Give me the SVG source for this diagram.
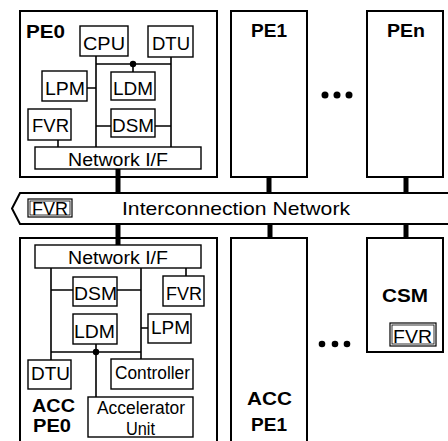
<svg xmlns="http://www.w3.org/2000/svg" width="448" height="441" viewBox="0 0 448 441">
<style>
.ob{fill:none;stroke:#000;stroke-width:2}
.ib{fill:#fff;stroke:#000;stroke-width:1.4}
.ln{fill:none;stroke:#000;stroke-width:1.6}
.th{stroke:#000;stroke-width:5}
.t{font-family:"Liberation Sans",Arial,sans-serif;font-size:18px;fill:#000}
.b{font-weight:bold;font-size:19px}
</style>
<rect width="448" height="441" fill="#fff"/>
<g id="connectors">
<line class="th" x1="118" y1="169" x2="118" y2="194"/>
<line class="th" x1="269" y1="176" x2="269" y2="194"/>
<line class="th" x1="406" y1="176" x2="406" y2="194"/>
<line class="th" x1="118" y1="223" x2="118" y2="246"/>
<line class="th" x1="270" y1="223" x2="270" y2="239"/>
<line class="th" x1="406" y1="223" x2="406" y2="239"/>
<path class="ln" d="M96 56V147M171 57V147M96 64H171M133 64V72M87 88H96M96 126H111M155 126H171M58 140V147"/>
<circle cx="133" cy="64" r="3.2"/>
<path class="ln" d="M51 268V360M141 268V359M51 352H141M96 344V397M51 290H73M117 290H141M141 328H148M186 268V276"/>
<circle cx="96" cy="352" r="3.2"/>
</g>
<g id="pe0">
<rect class="ob" x="20" y="11" width="197" height="166"/>
<text class="t b" x="26" y="38" textLength="39" lengthAdjust="spacingAndGlyphs">PE0</text>
</g>
<g id="pe0-cpu"><rect class="ib" x="80" y="26" width="48" height="30"/><text class="t" x="83" y="50" textLength="42" lengthAdjust="spacingAndGlyphs">CPU</text></g>
<g id="pe0-dtu"><rect class="ib" x="148" y="26" width="45" height="31"/><text class="t" x="152" y="50" textLength="38" lengthAdjust="spacingAndGlyphs">DTU</text></g>
<g id="pe0-lpm"><rect class="ib" x="42" y="71" width="45" height="30"/><text class="t" x="45" y="95" textLength="40" lengthAdjust="spacingAndGlyphs">LPM</text></g>
<g id="pe0-ldm"><rect class="ib" x="111" y="72" width="44" height="28"/><text class="t" x="113" y="95" textLength="40" lengthAdjust="spacingAndGlyphs">LDM</text></g>
<g id="pe0-fvr"><rect class="ib" x="28" y="109" width="43" height="31"/><text class="t" x="32" y="132" textLength="37" lengthAdjust="spacingAndGlyphs">FVR</text></g>
<g id="pe0-dsm"><rect class="ib" x="111" y="109" width="44" height="28"/><text class="t" x="112" y="132" textLength="42" lengthAdjust="spacingAndGlyphs">DSM</text></g>
<g id="pe0-nif"><rect class="ib" x="35" y="147" width="166" height="22"/><text class="t" x="68" y="166" textLength="100" lengthAdjust="spacingAndGlyphs">Network I/F</text></g>
<g id="pe1">
<rect class="ob" x="231" y="11" width="76" height="166"/>
<text class="t b" x="251" y="37" textLength="36" lengthAdjust="spacingAndGlyphs">PE1</text>
</g>
<g id="dots-top"><circle cx="325" cy="95" r="3.5"/><circle cx="337" cy="95" r="3.5"/><circle cx="349" cy="95" r="3.5"/></g>
<g id="pen">
<rect class="ob" x="367" y="11" width="76" height="166"/>
<text class="t b" x="387" y="37" textLength="38" lengthAdjust="spacingAndGlyphs">PEn</text>
</g>
<g id="network">
<polygon points="450,193 20,193 12,208.5 20,224 450,224" fill="#fff" stroke="#000" stroke-width="2"/>
<rect x="28" y="199" width="44" height="18" fill="#fff" stroke="#000" stroke-width="1.2"/>
<rect x="30" y="201" width="40" height="14" fill="none" stroke="#000" stroke-width="0.8"/>
<text class="t" x="32" y="215" textLength="36" lengthAdjust="spacingAndGlyphs">FVR</text>
<text class="t" x="122" y="215" style="font-size:19px" textLength="228" lengthAdjust="spacingAndGlyphs">Interconnection Network</text>
</g>
<g id="accpe0">
<rect class="ob" x="20" y="238" width="197" height="210"/>
<text class="t b" x="32" y="412" textLength="43" lengthAdjust="spacingAndGlyphs">ACC</text>
<text class="t b" x="33" y="432" textLength="38" lengthAdjust="spacingAndGlyphs">PE0</text>
</g>
<g id="acc-nif"><rect class="ib" x="35" y="245" width="166" height="23"/><text class="t" x="68" y="264" textLength="100" lengthAdjust="spacingAndGlyphs">Network I/F</text></g>
<g id="acc-dsm"><rect class="ib" x="73" y="277" width="44" height="29"/><text class="t" x="74" y="300" textLength="43" lengthAdjust="spacingAndGlyphs">DSM</text></g>
<g id="acc-fvr"><rect class="ib" x="163" y="276" width="41" height="30"/><text class="t" x="166" y="300" textLength="36" lengthAdjust="spacingAndGlyphs">FVR</text></g>
<g id="acc-ldm"><rect class="ib" x="73" y="314" width="44" height="30"/><text class="t" x="74" y="338" textLength="41" lengthAdjust="spacingAndGlyphs">LDM</text></g>
<g id="acc-lpm"><rect class="ib" x="148" y="314" width="43" height="29"/><text class="t" x="151" y="334" textLength="39" lengthAdjust="spacingAndGlyphs">LPM</text></g>
<g id="acc-dtu"><rect class="ib" x="28" y="360" width="43" height="29"/><text class="t" x="31" y="380" textLength="39" lengthAdjust="spacingAndGlyphs">DTU</text></g>
<g id="acc-controller"><rect class="ib" x="111" y="359" width="82" height="30"/><text class="t" x="115" y="379" textLength="75" lengthAdjust="spacingAndGlyphs">Controller</text></g>
<g id="acc-unit"><rect class="ib" x="88" y="397" width="105" height="40"/><text class="t" x="97" y="414" textLength="88" lengthAdjust="spacingAndGlyphs">Accelerator</text><text class="t" x="126" y="435" textLength="29" lengthAdjust="spacingAndGlyphs">Unit</text></g>
<g id="accpe1">
<rect class="ob" x="231" y="238" width="76" height="210"/>
<text class="t b" x="247" y="405" textLength="45" lengthAdjust="spacingAndGlyphs">ACC</text>
<text class="t b" x="251" y="431" textLength="36" lengthAdjust="spacingAndGlyphs">PE1</text>
</g>
<g id="dots-bottom"><circle cx="322" cy="344" r="3.3"/><circle cx="335" cy="344" r="3.3"/><circle cx="347" cy="344" r="3.3"/></g>
<g id="csm">
<rect class="ob" x="367" y="238" width="76" height="114"/>
<text class="t b" x="382" y="302" textLength="46" lengthAdjust="spacingAndGlyphs">CSM</text>
<rect x="390" y="323" width="46" height="23" fill="#fff" stroke="#000" stroke-width="1.2"/>
<rect x="392" y="325" width="42" height="19" fill="none" stroke="#000" stroke-width="0.8"/>
<text class="t" x="393" y="343" textLength="39" lengthAdjust="spacingAndGlyphs">FVR</text>
</g>
</svg>
